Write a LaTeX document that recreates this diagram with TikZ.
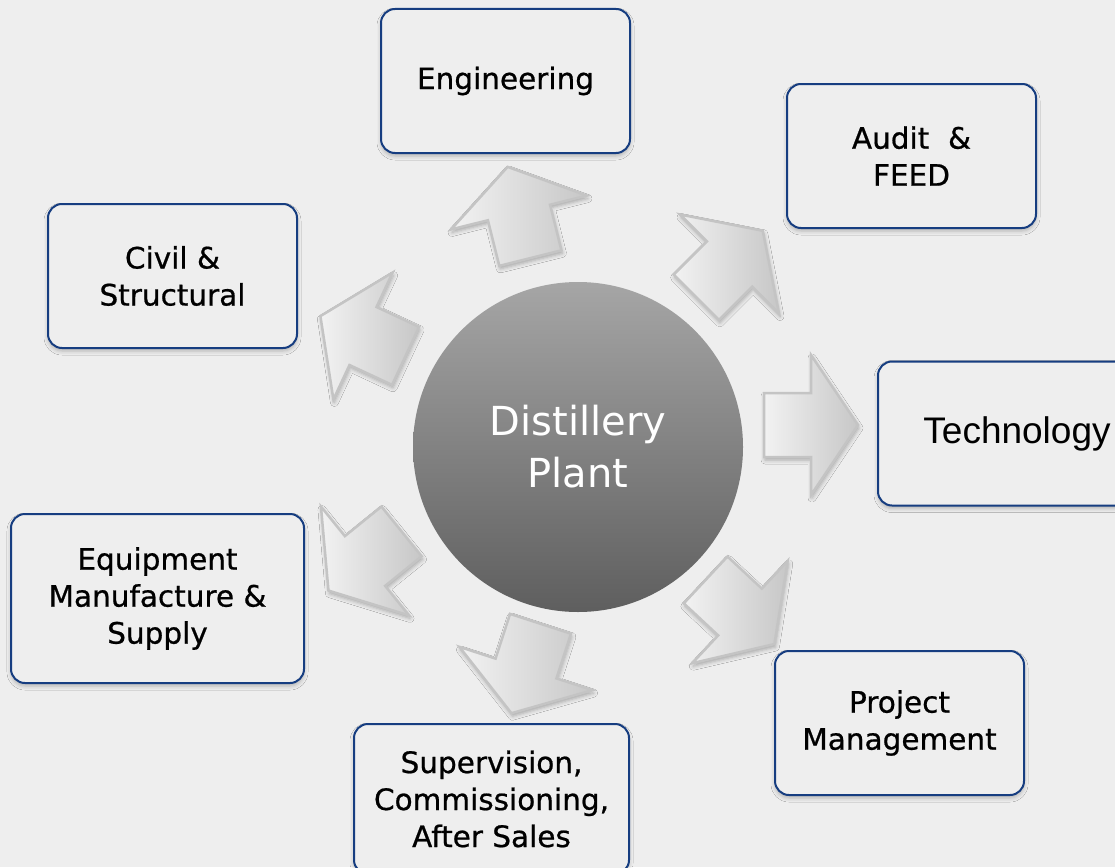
\documentclass[tikz,border=0pt]{standalone}
\usepackage{fontspec}
\setmainfont{DejaVu Sans}
\newfontfamily\boxfont[FakeBold=0.7]{DejaVu Sans}
\newfontfamily\techfont{Liberation Sans}
\usetikzlibrary{shadows.blur}

\definecolor{pagegray}{HTML}{EEEEEE}
\definecolor{framenavy}{HTML}{163D80}
\definecolor{arrowedge}{HTML}{C4C4C4}

\tikzset{
  service/.style={draw=framenavy, line width=2pt, fill=pagegray, rounded corners=14pt,
    minimum width=249pt, minimum height=144pt, inner sep=0pt, align=center,
    font=\boxfont\fontsize{29.5}{37}\selectfont,
    blur shadow={shadow xshift=0pt, shadow yshift=-3pt, shadow blur radius=4pt, shadow opacity=25}},
  hub/.style={circle, minimum size=330pt, inner sep=0pt, align=center,
    top color=black!35, bottom color=black!63, text=white,
    font=\fontsize{40}{52}\selectfont},
  flowarrow/.pic={
    \draw[arrowedge, line width=2.5pt, line join=miter, left color=black!5, right color=black!22,
      blur shadow={shadow xshift=1pt, shadow yshift=-3pt, shadow blur radius=4pt, shadow opacity=30}]
      (-47,-32) -- (0,-32) -- (0,-70) -- (47,0) -- (0,70) -- (0,32) -- (-47,32) -- cycle;
  }
}

\begin{document}
\begin{tikzpicture}[x=1pt, y=-1pt]
    \useasboundingbox (0,0) rectangle (1115,867);
    \fill[pagegray] (0,0) rectangle (1115,867);

    % centre
    \node[hub] (plant) at (578,447) {Distillery\\Plant};

    % block arrows round the centre
    \pic[rotate=0]   at (811,425)   {flowarrow};
    \pic[rotate=45]  at (729.5,264) {flowarrow};
    \pic[rotate=104] at (519,212.5) {flowarrow};
    \pic[rotate=155] at (363,336)   {flowarrow};
    \pic[rotate=219] at (365,561)   {flowarrow};
    \pic[rotate=252] at (526,668.5) {flowarrow};
    \pic[rotate=317] at (740,612)   {flowarrow};

    % services
    \node[service] (eng) at (505.5,81) {Engineering};
    \node[service] (audit) at (911.5,156) {Audit\ \ \&\\FEED};
    \node[service] (civil) at (172.5,276) {Civil \&\\Structural};
    \node[service, minimum width=278pt, font=\techfont\fontsize{37}{44}\selectfont] (tech) at (1017,433.5) {Technology};
    \node[service, minimum width=293pt, minimum height=169pt] (equip) at (157.5,598.5) {Equipment\\Manufacture \&\\Supply};
    \node[service] (proj) at (899.5,723) {Project\\Management};
    \node[service, minimum width=275pt, minimum height=150pt] (super) at (491.5,799) {Supervision,\\Commissioning,\\After Sales};
\end{tikzpicture}
\end{document}
